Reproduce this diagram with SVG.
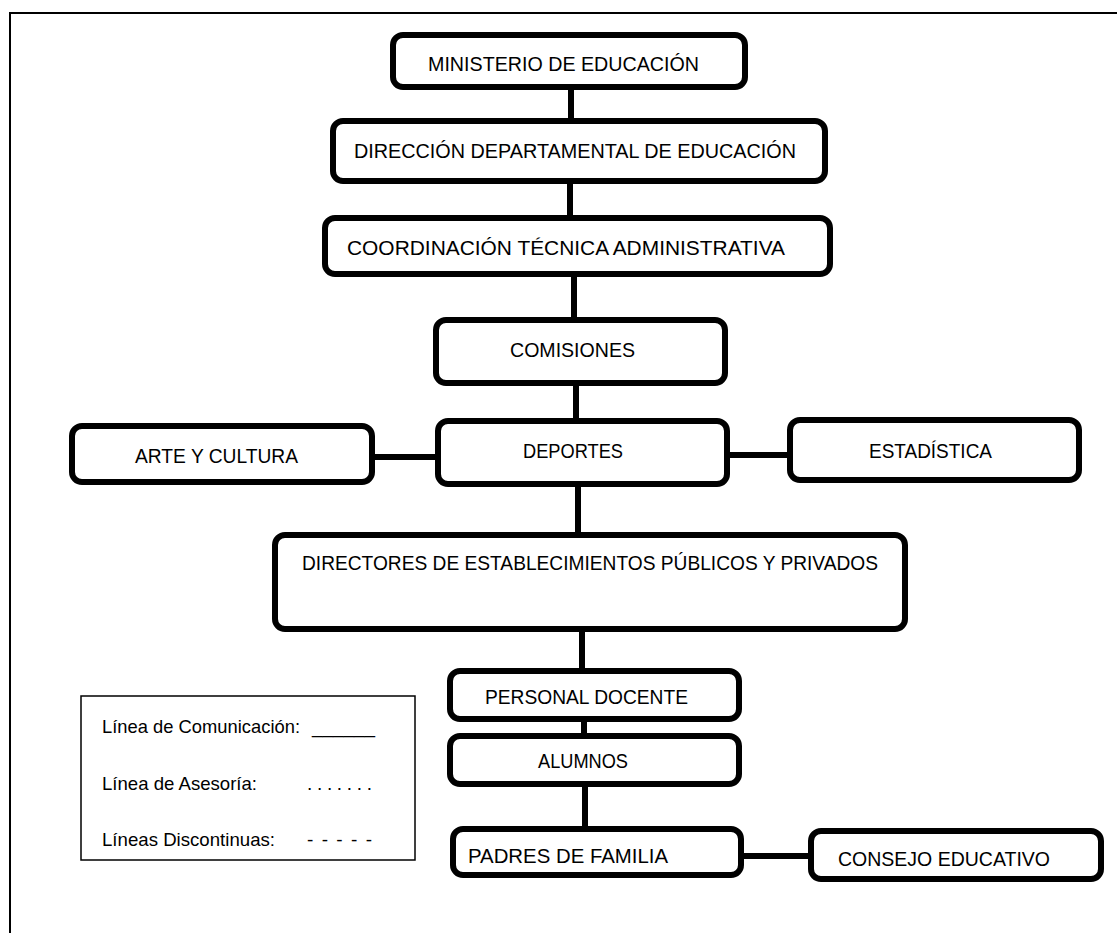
<svg xmlns="http://www.w3.org/2000/svg" width="1117" height="933" viewBox="0 0 1117 933">
<style>
.box{fill:#fff;stroke:#000;stroke-width:6}
.t{font-family:"Liberation Sans",Arial,sans-serif;font-size:21px;fill:#000}
.lt{font-family:"Liberation Sans",Arial,sans-serif;font-size:19px;fill:#000}
.c{stroke:#000;stroke-width:6;fill:none}
</style>
<rect width="1117" height="933" fill="#fff"/>
<path d="M10,933 V13 H1117" fill="none" stroke="#000" stroke-width="2"/>
<g id="connectors">
<line class="c" x1="571" y1="88" x2="571" y2="120"/>
<line class="c" x1="570" y1="182" x2="570" y2="217"/>
<line class="c" x1="574" y1="275" x2="574" y2="319"/>
<line class="c" x1="576" y1="384" x2="576" y2="420"/>
<line class="c" x1="372" y1="457" x2="438" y2="457"/>
<line class="c" x1="727" y1="455" x2="790" y2="455"/>
<line class="c" x1="578" y1="485" x2="578" y2="535"/>
<line class="c" x1="582" y1="630" x2="582" y2="671"/>
<line class="c" x1="584" y1="720" x2="584" y2="736"/>
<line class="c" x1="585" y1="785" x2="585" y2="829"/>
<line class="c" x1="741" y1="856" x2="811" y2="856"/>
</g>
<g id="n-ministerio"><rect class="box" x="393" y="35" width="352" height="52" rx="10"/><text class="t" x="428" y="71" textLength="271" lengthAdjust="spacingAndGlyphs">MINISTERIO DE EDUCACIÓN</text></g>
<g id="n-direccion"><rect class="box" x="333" y="121" width="492" height="60" rx="10"/><text class="t" x="354" y="158" textLength="442" lengthAdjust="spacingAndGlyphs">DIRECCIÓN DEPARTAMENTAL DE EDUCACIÓN</text></g>
<g id="n-coordinacion"><rect class="box" x="325" y="218" width="505" height="56" rx="10"/><text class="t" x="347" y="255" textLength="438" lengthAdjust="spacingAndGlyphs">COORDINACIÓN TÉCNICA ADMINISTRATIVA</text></g>
<g id="n-comisiones"><rect class="box" x="436" y="320" width="289" height="63" rx="10"/><text class="t" x="510" y="357" textLength="125" lengthAdjust="spacingAndGlyphs">COMISIONES</text></g>
<g id="n-deportes"><rect class="box" x="438" y="421" width="289" height="63" rx="10"/><text class="t" x="523" y="458" textLength="100" lengthAdjust="spacingAndGlyphs">DEPORTES</text></g>
<g id="n-arte"><rect class="box" x="72" y="426" width="300" height="56" rx="10"/><text class="t" x="135" y="463" textLength="163" lengthAdjust="spacingAndGlyphs">ARTE Y CULTURA</text></g>
<g id="n-estadistica"><rect class="box" x="790" y="420" width="289" height="60" rx="10"/><text class="t" x="869" y="458" textLength="123" lengthAdjust="spacingAndGlyphs">ESTADÍSTICA</text></g>
<g id="n-directores"><rect class="box" x="275" y="535" width="630" height="94" rx="10"/><text class="t" x="302" y="570" textLength="576" lengthAdjust="spacingAndGlyphs">DIRECTORES DE ESTABLECIMIENTOS PÚBLICOS Y PRIVADOS</text></g>
<g id="n-personal"><rect class="box" x="450" y="671" width="289" height="48" rx="10"/><text class="t" x="485" y="704" textLength="203" lengthAdjust="spacingAndGlyphs">PERSONAL DOCENTE</text></g>
<g id="n-alumnos"><rect class="box" x="450" y="736" width="289" height="48" rx="10"/><text class="t" x="538" y="768" textLength="90" lengthAdjust="spacingAndGlyphs">ALUMNOS</text></g>
<g id="n-padres"><rect class="box" x="453" y="829" width="288" height="46" rx="10"/><text class="t" x="468" y="863" textLength="200" lengthAdjust="spacingAndGlyphs">PADRES DE FAMILIA</text></g>
<g id="n-consejo"><rect class="box" x="811" y="831" width="290" height="48" rx="10"/><text class="t" x="838" y="866" textLength="212" lengthAdjust="spacingAndGlyphs">CONSEJO EDUCATIVO</text></g>
<g id="legend">
<rect x="81" y="696" width="334" height="164" fill="#fff" stroke="#000" stroke-width="1.5"/>
<text class="lt" x="102" y="733" textLength="198" lengthAdjust="spacingAndGlyphs">Línea de Comunicación:</text>
<text class="lt" x="312" y="733" textLength="63" lengthAdjust="spacingAndGlyphs">______</text>
<text class="lt" x="102" y="790" textLength="155" lengthAdjust="spacingAndGlyphs">Línea de Asesoría:</text>
<text class="lt" x="307" y="790" textLength="65" lengthAdjust="spacing">. . . . . . .</text>
<text class="lt" x="102" y="846" textLength="173" lengthAdjust="spacingAndGlyphs">Líneas Discontinuas:</text>
<text class="lt" x="307" y="846" textLength="65" lengthAdjust="spacing">- - - - -</text>
</g>
</svg>
